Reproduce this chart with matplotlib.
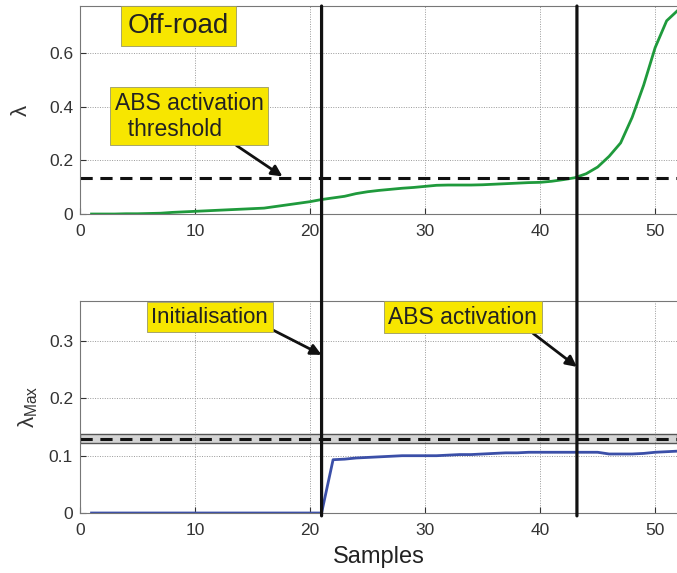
import numpy as np
import matplotlib.pyplot as plt
from matplotlib.patches import ConnectionPatch

plt.rcParams["font.family"] = ["Liberation Sans", "DejaVu Sans"]
plt.rcParams["mathtext.fontset"] = "custom"
plt.rcParams["mathtext.rm"] = "Liberation Sans"

# samples 1..52
samples = np.arange(1, 53)

# wheel slip lambda (off-road)
slip = [0.0, 0.0, 0.0, 0.001, 0.001, 0.002, 0.003, 0.006, 0.008, 0.010,
        0.012, 0.014, 0.016, 0.018, 0.020, 0.022, 0.028, 0.034, 0.040, 0.046,
        0.054, 0.060, 0.066, 0.076, 0.083, 0.088, 0.092, 0.096, 0.099, 0.103,
        0.107, 0.108, 0.108, 0.108, 0.109, 0.111, 0.113, 0.115, 0.117, 0.118,
        0.122, 0.128, 0.135, 0.150, 0.175, 0.215, 0.265, 0.360, 0.480, 0.620,
        0.720, 0.760]

# estimated lambda max
lam_max = [0.0] * 21 + [0.093, 0.094, 0.096, 0.097, 0.098, 0.099, 0.100, 0.100,
                        0.100, 0.100, 0.101, 0.102, 0.102, 0.103, 0.104, 0.105,
                        0.105, 0.106, 0.106, 0.106, 0.106, 0.106, 0.106, 0.106,
                        0.103, 0.103, 0.103, 0.104, 0.106, 0.107, 0.108]

threshold = 0.133
band = (0.123, 0.138)
init_sample = 21
abs_sample = 43.2

fig = plt.figure(figsize=(6.77, 5.73), dpi=100)
ax1 = fig.add_axes([0.1182, 0.6265, 0.8818, 0.363])
ax2 = fig.add_axes([0.1182, 0.1047, 0.8818, 0.37])

tick_col = "#333333"
for ax in (ax1, ax2):
    ax.set_xlim(0, 51.9)
    ax.set_xticks([0, 10, 20, 30, 40, 50])
    ax.grid(True, linestyle=(0, (1, 1.5)), color="#999999", linewidth=0.7)
    ax.tick_params(direction="in", labelsize=12.5, colors=tick_col, length=4)
    ax.tick_params(axis="x", pad=7)
    ax.tick_params(axis="y", pad=5)
    for s in ("left", "top", "bottom"):
        ax.spines[s].set_color("#777777")
    ax.spines["right"].set_visible(False)

# top panel
ax1.set_ylim(0, 0.775)
ax1.set_yticks([0, 0.2, 0.4, 0.6])
ax1.set_yticklabels(["0", "0.2", "0.4", "0.6"])
ax1.plot(samples, slip, color="#1f9a3c", lw=2.0)
ax1.axhline(threshold, color="#111111", lw=2.2, ls=(0, (4, 2.5)))
ax1.set_ylabel("λ", fontsize=16, color=tick_col, labelpad=12)

box = dict(boxstyle="square,pad=0.2", facecolor="#f7e600", edgecolor="#999966", lw=0.6)
big_box = dict(boxstyle="square,pad=0.25", facecolor="#f7e600", edgecolor="#999966", lw=0.6)
ax1.text(0.08, 0.905, "Off-road", transform=ax1.transAxes, fontsize=20,
         color="#222222", va="center", ha="left", bbox=big_box)
ax1.annotate("ABS activation\n  threshold", xy=(17.6, 0.14), xytext=(3.0, 0.455),
             fontsize=16.5, color="#222222", va="top", ha="left", bbox=box,
             arrowprops=dict(arrowstyle="-|>", color="#111111", lw=2,
                             mutation_scale=16, shrinkA=0, shrinkB=0,
                             relpos=(0.77, 0.0)),
             linespacing=1.15)

# bottom panel
ax2.set_ylim(0, 0.37)
ax2.set_yticks([0, 0.1, 0.2, 0.3])
ax2.set_yticklabels(["0", "0.1", "0.2", "0.3"])
ax2.axhspan(band[0], band[1], facecolor="#d4d4d4", edgecolor="#555555", lw=1.0)
ax2.axhline(threshold - 0.003, color="#111111", lw=2.2, ls=(0, (4, 2.5)))
ax2.plot(samples, lam_max, color="#3b4fa8", lw=2.0)
ax2.set_ylabel(r"λ$_{\mathrm{Max}}$", fontsize=16, color=tick_col, labelpad=6)
ax2.set_xlabel("Samples", fontsize=17, color="#222222", labelpad=6)

ax2.annotate("Initialisation", xy=(init_sample, 0.276), xytext=(6.2, 0.342),
             fontsize=16, color="#222222", va="center", ha="left", bbox=box,
             arrowprops=dict(arrowstyle="-|>", color="#111111", lw=2,
                             mutation_scale=16, shrinkA=0, shrinkB=0,
                             relpos=(1.0, 0.0)))
ax2.annotate("ABS activation", xy=(abs_sample, 0.255), xytext=(26.8, 0.342),
             fontsize=16.5, color="#222222", va="center", ha="left", bbox=box,
             arrowprops=dict(arrowstyle="-|>", color="#111111", lw=2,
                             mutation_scale=16, shrinkA=0, shrinkB=0,
                             relpos=(0.93, 0.0)))

# event lines through both panels
for xs in (init_sample, abs_sample):
    con = ConnectionPatch(xyA=(xs, 0.775), coordsA=ax1.transData,
                          xyB=(xs, -0.005), coordsB=ax2.transData,
                          color="#111111", lw=2.3)
    fig.add_artist(con)

fig.savefig("out.png", dpi=100)
